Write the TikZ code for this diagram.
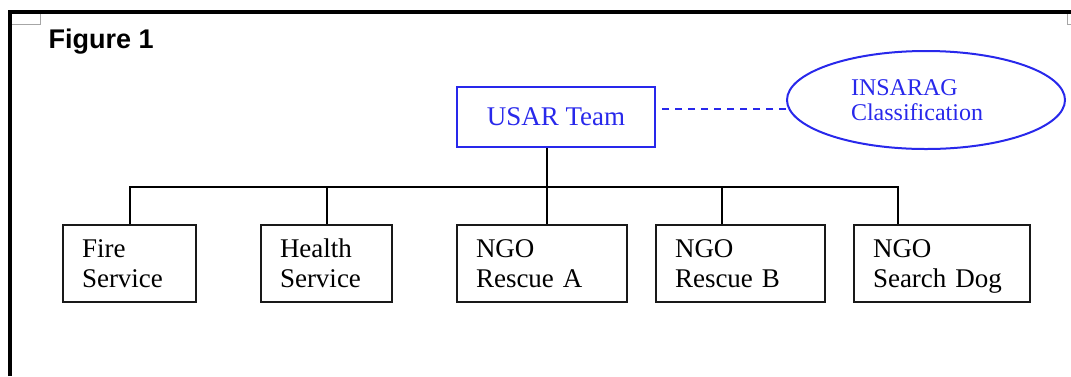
\documentclass[tikz,border=0pt]{standalone}
\usepackage{fontspec}
\setmainfont{Liberation Serif}
\newfontfamily\figfont{Liberation Sans}
\usepackage{xcolor}
\usepackage{tikz}
\usetikzlibrary{positioning}
\usetikzlibrary{shapes}

\definecolor{usarblue}{RGB}{40,40,235}

\begin{document}
\begin{tikzpicture}[x=1pt,y=-1pt,
   unit/.style={draw=black!90, line width=2pt, align=left, inner xsep=19pt,
                minimum height=77pt, font=\fontsize{27}{30}\selectfont},
   lead/.style={draw=usarblue, line width=2pt, text=usarblue, minimum width=198pt,
                minimum height=60pt, font=\fontsize{27}{30}\selectfont},
   note/.style={ellipse, draw=usarblue, line width=2pt, text=usarblue, align=left,
                minimum width=278pt, minimum height=98pt, inner sep=0pt,
                font=\fontsize{24}{25}\selectfont},
   tie/.style={draw=black, line width=2pt},
   link/.style={draw=usarblue, line width=1.6pt, dash pattern=on 7pt off 6pt}]
   \useasboundingbox (0,0) rectangle (1071,376);
   % frame of the figure
   \draw[line width=4pt] (10,376) -- (10,12) -- (1071,12);
   \draw[black!35, line width=1pt] (12,24) -- (40,24) -- (40,14);
   \draw[black!35, line width=1pt] (1071,24) -- (1067,24) -- (1067,14);
   \node[anchor=base west, font=\figfont\bfseries\fontsize{27}{30}\selectfont] (title) at (45,48) {Figure 1};

   \node[lead] (usar) at (556,117) {USAR Team};
   \node[note] (insarag) at (926,100) {INSARAG\\Classification\hspace*{18pt}};

   \node[unit, text width=95pt] (fire) at (129.5,263.5) {Fire\\Service};
   \node[unit, text width=93pt, right=63pt of fire] (health) {Health\\Service};
   \node[unit, text width=132pt, right=63pt of health] (ngoa) {NGO\\Rescue A};
   \node[unit, text width=131pt, right=27pt of ngoa] (ngob) {NGO\\Rescue B};
   \node[unit, text width=138pt, right=27pt of ngob] (dog) {NGO\\Search Do\smash{g}};

   \coordinate (hub) at (547,187);
   \coordinate (join) at ([yshift=-9pt]insarag.west);
   \draw[tie] (usar.south -| hub) -- (hub);
   \foreach \n/\s in {fire/0, health/0, ngoa/5, ngob/-18.5, dog/-44}
      \draw[tie] (hub) -| ([xshift=\s pt]\n.north);
   \draw[link] (join) -- (usar.east |- join);
\end{tikzpicture}
\end{document}
